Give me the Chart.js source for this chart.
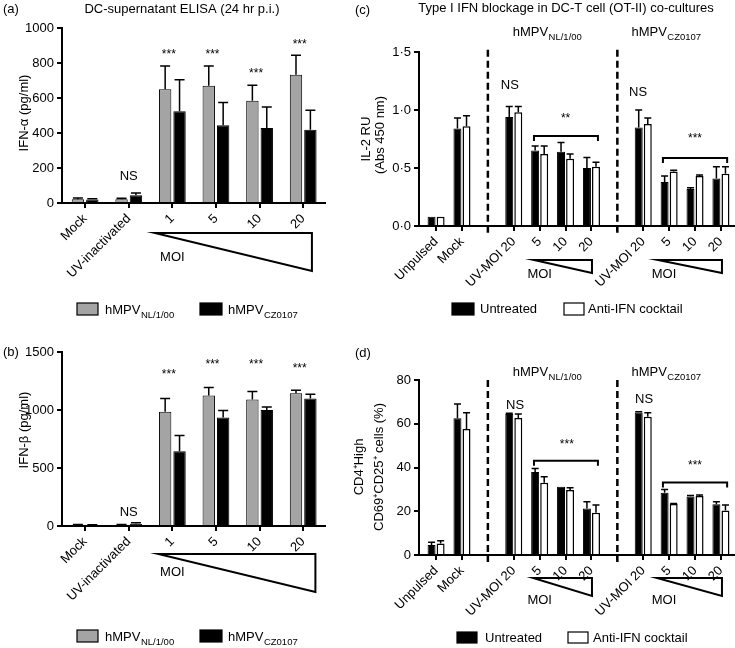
<!DOCTYPE html>
<html>
<head>
<meta charset="utf-8">
<script src="https://cdn.jsdelivr.net/npm/chart.js@4/dist/chart.umd.min.js"></script>
<style>
body { margin: 0; background: #fff; }
#wrap { position: relative; width: 735px; height: 648px; }
canvas { position: absolute; }
</style>
</head>
<body>
<div id="wrap">
  <canvas id="pa" width="350" height="324" style="left:0;top:0"></canvas>
  <canvas id="pc" width="385" height="324" style="left:350px;top:0"></canvas>
  <canvas id="pb" width="350" height="324" style="left:0;top:324px"></canvas>
  <canvas id="pd" width="385" height="324" style="left:350px;top:324px"></canvas>
</div>
<script>
const FONT = '"Liberation Sans", Arial, Helvetica, sans-serif';

// (a) IFN-alpha ELISA
const aLabels = ['Mock', 'UV-inactivated', '1', '5', '10', '20'];
const aNL = [22, 22, 650, 670, 585, 733];
const aNLErr = [6, 5, 133, 113, 88, 112];
const aCZ = [20, 45, 525, 445, 428, 418];
const aCZErr = [5, 12, 180, 130, 120, 112];
const aStars = [null, null, 863, 863, 754, 920];

// (b) IFN-beta ELISA
const bLabels = ['Mock', 'UV-inactivated', '1', '5', '10', '20'];
const bNL = [10, 10, 985, 1125, 1090, 1145];
const bNLErr = [3, 3, 115, 70, 70, 25];
const bCZ = [8, 20, 645, 935, 1000, 1100];
const bCZErr = [3, 8, 135, 60, 25, 35];
const bStars = [null, null, 1327, 1413, 1413, 1379];

// (c) IL-2, gaps at index 2 and 7 are the dashed separators
const cLabels = ['Unpulsed', 'Mock', '', 'UV-MOI 20', '5', '10', '20', '', 'UV-MOI 20', '5', '10', '20'];
const cUnt = [0.08, 0.84, null, 0.94, 0.65, 0.64, 0.50, null, 0.85, 0.38, 0.32, 0.41];
const cUntErr = [0, 0.09, null, 0.09, 0.04, 0.08, 0.09, null, 0.15, 0.05, 0.01, 0.10];
const cAnti = [0.08, 0.86, null, 0.98, 0.62, 0.58, 0.51, null, 0.88, 0.47, 0.43, 0.45];
const cAntiErr = [0, 0.09, null, 0.05, 0.07, 0.04, 0.04, null, 0.05, 0.01, 0.01, 0.06];

// (d) CD69+CD25+ cells
const dLabels = cLabels;
const dUnt = [4.6, 62.5, null, 64.5, 38, 31.2, 21.3, null, 65.2, 28.5, 26.7, 23.2];
const dUntErr = [1.2, 6.5, null, 0.3, 1.6, 0, 3.1, null, 0.3, 1.5, 0.5, 1.2];
const dAnti = [5.3, 57.6, null, 62.6, 33, 29.7, 19.3, null, 63.2, 23.3, 27, 20.3];
const dAntiErr = [1.2, 7.4, null, 1.9, 2.8, 1.1, 3.6, null, 1.8, 0.2, 0.4, 2.6];

function txt(ctx, s, x, y, size, align, bold) {
  ctx.font = (bold ? 'bold ' : '') + size + 'px ' + FONT;
  ctx.textAlign = align || 'center';
  ctx.textBaseline = 'middle';
  ctx.fillStyle = '#000';
  ctx.fillText(s, x, y);
}

function vtxt(ctx, s, x, y, size) {
  ctx.save();
  ctx.translate(x, y);
  ctx.rotate(-Math.PI / 2);
  txt(ctx, s, 0, 0, size);
  ctx.restore();
}

function subLabel(ctx, main, sub, x, y, align) {
  ctx.font = '13px ' + FONT;
  const w1 = ctx.measureText(main).width;
  ctx.font = '9.5px ' + FONT;
  const w2 = ctx.measureText(sub).width;
  const x0 = align === 'center' ? x - (w1 + w2) / 2 : x;
  ctx.fillStyle = '#000';
  ctx.textAlign = 'left';
  ctx.textBaseline = 'alphabetic';
  ctx.font = '13px ' + FONT;
  ctx.fillText(main, x0, y);
  ctx.font = '9.5px ' + FONT;
  ctx.fillText(sub, x0 + w1 + 0.5, y + 3.5);
}

function stars(ctx, s, x, y) {
  txt(ctx, s, x, y + 2.5, 12);
}

function triangle(ctx, x1, x2, yTop, yBot) {
  ctx.save();
  ctx.strokeStyle = '#000';
  ctx.lineWidth = 2;
  ctx.lineJoin = 'miter';
  ctx.beginPath();
  ctx.moveTo(x1, yTop);
  ctx.lineTo(x2, yTop);
  ctx.lineTo(x2, yBot);
  ctx.closePath();
  ctx.stroke();
  ctx.restore();
}

function bracket(ctx, x1, x2, y) {
  ctx.save();
  ctx.strokeStyle = '#000';
  ctx.lineWidth = 2;
  ctx.beginPath();
  ctx.moveTo(x1, y + 5);
  ctx.lineTo(x1, y);
  ctx.lineTo(x2, y);
  ctx.lineTo(x2, y + 5);
  ctx.stroke();
  ctx.restore();
}

function dashed(ctx, x, y1, y2) {
  ctx.save();
  ctx.strokeStyle = '#000';
  ctx.lineWidth = 2.5;
  ctx.setLineDash([7, 4]);
  ctx.beginPath();
  ctx.moveTo(x, y1);
  ctx.lineTo(x, y2);
  ctx.stroke();
  ctx.restore();
}

function box(ctx, x, y, w, h, fill) {
  ctx.save();
  ctx.fillStyle = fill;
  ctx.fillRect(x, y, w, h);
  ctx.strokeStyle = '#000';
  ctx.lineWidth = 1.2;
  ctx.strokeRect(x, y, w, h);
  ctx.restore();
}

const errPlugin = {
  id: 'errbars',
  afterDatasetsDraw(chart) {
    const ctx = chart.ctx;
    const y = chart.scales.y;
    chart.data.datasets.forEach((ds, di) => {
      const meta = chart.getDatasetMeta(di);
      meta.data.forEach((bar, i) => {
        const v = ds.data[i].y;
        const e = ds.err[i];
        if (v == null || !e) return;
        const top = y.getPixelForValue(v + e);
        ctx.save();
        ctx.strokeStyle = '#000';
        ctx.lineWidth = 1.5;
        ctx.beginPath();
        ctx.moveTo(bar.x, bar.y);
        ctx.lineTo(bar.x, top);
        ctx.moveTo(bar.x - ds.cap, top);
        ctx.lineTo(bar.x + ds.cap, top);
        ctx.stroke();
        ctx.restore();
      });
    });
  }
};

function points(vals) {
  return vals.map((v, i) => ({ x: i, y: v }));
}

// x scale gets a fixed height of 85 so rotated labels are not clipped
function makePanel(id, p) {
  const axisLine = { drawOnChartArea: false, drawTicks: true, tickLength: 5, color: '#000', tickColor: '#000', lineWidth: 2, tickWidth: 2, offset: false };
  return new Chart(document.getElementById(id), {
    type: 'bar',
    data: {
      datasets: p.series.map(s => ({
        data: points(s.values),
        err: s.err,
        cap: p.cap,
        backgroundColor: s.fill,
        borderColor: '#000',
        borderWidth: s.border,
        categoryPercentage: p.catPct,
        barPercentage: p.barPct
      }))
    },
    options: {
      responsive: false,
      animation: false,
      events: [],
      layout: { padding: p.pad },
      plugins: { legend: { display: false }, tooltip: { enabled: false } },
      scales: {
        x: {
          type: 'linear',
          min: p.xMin,
          max: p.xMax,
          offset: false,
          afterBuildTicks: s => { s.ticks = p.labels.map((l, i) => ({ value: i })); },
          afterFit: s => { s.height = 85; },
          ticks: {
            callback: v => p.labels[v],
            autoSkip: false,
            minRotation: 45,
            maxRotation: 45,
            color: '#000',
            font: { family: FONT, size: 13 }
          },
          grid: axisLine,
          border: { display: true, color: '#000', width: 2 }
        },
        y: {
          min: 0,
          max: p.yMax,
          afterFit: s => { s.width = p.yWidth; },
          ticks: {
            stepSize: p.step,
            callback: p.fmt,
            color: '#000',
            font: { family: FONT, size: 13 }
          },
          grid: axisLine,
          border: { display: true, color: '#000', width: 2 }
        }
      }
    },
    plugins: [errPlugin, { id: 'deco', afterDraw: p.draw }]
  });
}

makePanel('pa', {
  labels: aLabels, xMin: -0.53, xMax: 5.5, yMax: 1000, step: 200, yWidth: 62,
  pad: { left: 0, top: 28, right: 25, bottom: 36 }, catPct: 0.66, barPct: 0.86, cap: 5,
  fmt: v => v,
  series: [
    { values: aNL, err: aNLErr, fill: '#a4a4a4', border: 1 },
    { values: aCZ, err: aCZErr, fill: '#000', border: 1 }
  ],
  draw: chart => {
    const ctx = chart.ctx, x = chart.scales.x, y = chart.scales.y, bot = chart.chartArea.bottom;
    txt(ctx, '(a)', 3, 9, 13, 'left');
    txt(ctx, 'DC-supernatant ELISA (24 hr p.i.)', 182, 9, 13);
    vtxt(ctx, 'IFN-α (pg/ml)', 24, 113, 13);
    aStars.forEach((s, i) => { if (s) stars(ctx, '***', x.getPixelForValue(i - 0.08), y.getPixelForValue(s)); });
    txt(ctx, 'NS', x.getPixelForValue(1), y.getPixelForValue(150), 13);
    triangle(ctx, x.getPixelForValue(1.6), x.getPixelForValue(5.2), bot + 30, bot + 68);
    txt(ctx, 'MOI', x.getPixelForValue(2), bot + 54, 13);
    box(ctx, 77, 303, 21, 12, '#a4a4a4');
    subLabel(ctx, 'hMPV', 'NL/1/00', 105, 314);
    box(ctx, 200, 303, 22, 12, '#000');
    subLabel(ctx, 'hMPV', 'CZ0107', 228, 314);
  }
});

makePanel('pb', {
  labels: bLabels, xMin: -0.53, xMax: 5.5, yMax: 1500, step: 500, yWidth: 62,
  pad: { left: 0, top: 28, right: 25, bottom: 37 }, catPct: 0.66, barPct: 0.86, cap: 5,
  fmt: v => v,
  series: [
    { values: bNL, err: bNLErr, fill: '#a4a4a4', border: 1 },
    { values: bCZ, err: bCZErr, fill: '#000', border: 1 }
  ],
  draw: chart => {
    const ctx = chart.ctx, x = chart.scales.x, y = chart.scales.y, bot = chart.chartArea.bottom;
    txt(ctx, '(b)', 3, 28, 13, 'left');
    vtxt(ctx, 'IFN-β (pg/ml)', 24, 106, 13);
    bStars.forEach((s, i) => { if (s) stars(ctx, '***', x.getPixelForValue(i - 0.08), y.getPixelForValue(s)); });
    txt(ctx, 'NS', x.getPixelForValue(1), y.getPixelForValue(120), 13);
    triangle(ctx, x.getPixelForValue(1.68), x.getPixelForValue(5.28), bot + 28, bot + 66);
    txt(ctx, 'MOI', x.getPixelForValue(2), bot + 46, 13);
    box(ctx, 77, 306, 21, 12, '#a4a4a4');
    subLabel(ctx, 'hMPV', 'NL/1/00', 105, 317);
    box(ctx, 200, 306, 22, 12, '#000');
    subLabel(ctx, 'hMPV', 'CZ0107', 228, 317);
  }
});

makePanel('pc', {
  labels: cLabels, xMin: -0.66, xMax: 11.5, yMax: 1.5, step: 0.5, yWidth: 69,
  pad: { left: 0, top: 52, right: 1, bottom: 13 }, catPct: 0.7, barPct: 0.88, cap: 3.5,
  fmt: v => v.toFixed(1).replace('.', '·'),
  series: [
    { values: cUnt, err: cUntErr, fill: '#000', border: 1 },
    { values: cAnti, err: cAntiErr, fill: '#fff', border: 1.5 }
  ],
  draw: chart => {
    const ctx = chart.ctx, x = chart.scales.x, y = chart.scales.y, bot = chart.chartArea.bottom;
    txt(ctx, '(c)', 5, 10, 13, 'left');
    txt(ctx, 'Type I IFN blockage in DC-T cell (OT-II) co-cultures', 216, 8, 13);
    vtxt(ctx, 'IL-2 RU', 16, 139, 13);
    vtxt(ctx, '(Abs 450 nm)', 30, 135, 13);
    subLabel(ctx, 'hMPV', 'NL/1/00', 197, 36, 'center');
    subLabel(ctx, 'hMPV', 'CZ0107', 316, 36, 'center');
    dashed(ctx, x.getPixelForValue(2), y.getPixelForValue(1.52), bot + 9);
    dashed(ctx, x.getPixelForValue(7), y.getPixelForValue(1.52), bot + 9);
    txt(ctx, 'NS', x.getPixelForValue(2.85), y.getPixelForValue(1.21), 13);
    txt(ctx, 'NS', x.getPixelForValue(7.8), y.getPixelForValue(1.155), 13);
    bracket(ctx, x.getPixelForValue(3.78), x.getPixelForValue(6.25), y.getPixelForValue(0.776));
    stars(ctx, '**', x.getPixelForValue(5), y.getPixelForValue(0.95));
    bracket(ctx, x.getPixelForValue(8.76), x.getPixelForValue(11.24), y.getPixelForValue(0.586));
    stars(ctx, '***', x.getPixelForValue(10), y.getPixelForValue(0.77));
    triangle(ctx, x.getPixelForValue(3.78), x.getPixelForValue(6.02), bot + 34, bot + 47);
    txt(ctx, 'MOI', x.getPixelForValue(4), bot + 48, 13);
    triangle(ctx, x.getPixelForValue(8.57), x.getPixelForValue(11.04), bot + 34, bot + 47);
    txt(ctx, 'MOI', x.getPixelForValue(8.8), bot + 48, 13);
    box(ctx, 102, 303, 22, 12, '#000');
    txt(ctx, 'Untreated', 130, 309, 13, 'left');
    box(ctx, 214, 303, 20, 12, '#fff');
    txt(ctx, 'Anti-IFN cocktail', 238, 309, 13, 'left');
  }
});

makePanel('pd', {
  labels: dLabels, xMin: -0.66, xMax: 11.5, yMax: 80, step: 20, yWidth: 69,
  pad: { left: 0, top: 56, right: 1, bottom: 8 }, catPct: 0.7, barPct: 0.88, cap: 3.5,
  fmt: v => v,
  series: [
    { values: dUnt, err: dUntErr, fill: '#000', border: 1 },
    { values: dAnti, err: dAntiErr, fill: '#fff', border: 1.5 }
  ],
  draw: chart => {
    const ctx = chart.ctx, x = chart.scales.x, y = chart.scales.y, bot = chart.chartArea.bottom;
    txt(ctx, '(d)', 5, 29, 13, 'left');
    vtxt(ctx, 'CD4⁺High', 9, 143, 13);
    vtxt(ctx, 'CD69⁺CD25⁺ cells (%)', 29, 143, 13);
    subLabel(ctx, 'hMPV', 'NL/1/00', 197, 52, 'center');
    subLabel(ctx, 'hMPV', 'CZ0107', 316, 52, 'center');
    dashed(ctx, x.getPixelForValue(2), y.getPixelForValue(80), bot + 7);
    dashed(ctx, x.getPixelForValue(7), y.getPixelForValue(80), bot + 7);
    txt(ctx, 'NS', x.getPixelForValue(3.05), y.getPixelForValue(68.6), 13);
    txt(ctx, 'NS', x.getPixelForValue(8.03), y.getPixelForValue(70.9), 13);
    bracket(ctx, x.getPixelForValue(3.78), x.getPixelForValue(6.25), y.getPixelForValue(43.1));
    stars(ctx, '***', x.getPixelForValue(5.05), y.getPixelForValue(51.8));
    bracket(ctx, x.getPixelForValue(8.76), x.getPixelForValue(11.24), y.getPixelForValue(33.2));
    stars(ctx, '***', x.getPixelForValue(10), y.getPixelForValue(41.9));
    triangle(ctx, x.getPixelForValue(3.75), x.getPixelForValue(6.02), bot + 23, bot + 41);
    txt(ctx, 'MOI', x.getPixelForValue(4), bot + 45, 13);
    triangle(ctx, x.getPixelForValue(8.53), x.getPixelForValue(11.04), bot + 23, bot + 41);
    txt(ctx, 'MOI', x.getPixelForValue(8.8), bot + 45, 13);
    box(ctx, 107, 308, 20, 11, '#000');
    txt(ctx, 'Untreated', 135, 314, 13, 'left');
    box(ctx, 218, 308, 20, 11, '#fff');
    txt(ctx, 'Anti-IFN cocktail', 243, 314, 13, 'left');
  }
});
</script>
</body>
</html>
